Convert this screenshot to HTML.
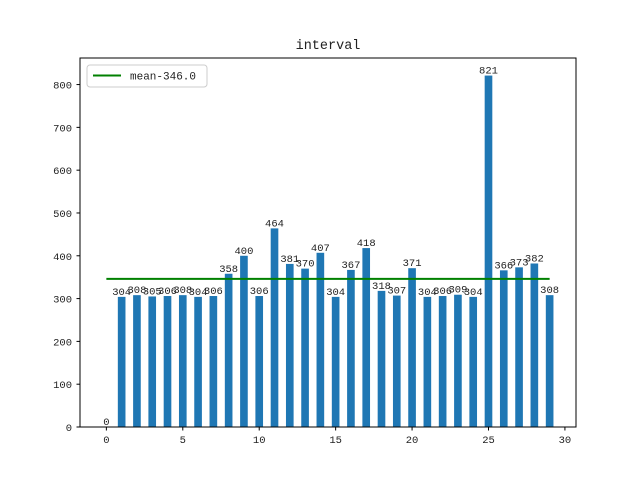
<!DOCTYPE html>
<html><head><meta charset="utf-8"><style>
body{margin:0;background:#fff}
svg text{font-family:"Liberation Mono","Noto Serif CJK SC",monospace;fill:#222}
</style></head><body>
<svg id="c" width="640" height="480" xmlns="http://www.w3.org/2000/svg">
<rect width="640" height="480" fill="#fff"/>
<text x="328" y="49" font-size="13.5" text-anchor="middle">interval</text>
<g id="bars"></g><g id="labels"></g><g id="axes"></g>
</svg>
<script>
const categories=[0,1,2,3,4,5,6,7,8,9,10,11,12,13,14,15,16,17,18,19,20,21,22,23,24,25,26,27,28,29];
const values=[0,304,308,305,306,308,304,306,358,400,306,464,381,370,407,304,367,418,318,307,371,304,306,309,304,821,366,373,382,308];
const meanValue=346.0;
const xTicks=[0,5,10,15,20,25,30];
const yTicks=[0,100,200,300,400,500,600,700,800];
const L=80,R=576,T=58,B=427;
const x0=-1.725,x1=30.725,y0=0,y1=862.05;
const X=v=>L+(v-x0)/(x1-x0)*(R-L);
const Y=v=>B-(v-y0)/(y1-y0)*(B-T);
const NS="http://www.w3.org/2000/svg";
function mk(t,a,p){const e=document.createElementNS(NS,t);for(const k in a)e.setAttribute(k,a[k]);p.appendChild(e);return e;}
const bars=document.getElementById('bars'),labels=document.getElementById('labels'),axes=document.getElementById('axes');
categories.forEach((c,i)=>{
  const v=values[i];
  const r=mk('rect',{x:X(c-0.25),y:Y(v),width:X(c+0.25)-X(c-0.25),height:Y(0)-Y(v),fill:'#1f77b4'},bars);
  
  
  const t=mk('text',{x:X(c),y:Y(v)-2,'font-size':'10.5','text-anchor':'middle'},labels);
  t.textContent=String(v);
  
  
});
const ml=mk('line',{x1:X(categories[0]),x2:X(categories[categories.length-1]),y1:Y(meanValue),y2:Y(meanValue),stroke:'#008000','stroke-width':2},bars);


const fr=mk('rect',{x:L,y:T,width:R-L,height:B-T,fill:'none',stroke:'#000','stroke-width':1},axes);


xTicks.forEach(v=>{
  mk('line',{x1:X(v),x2:X(v),y1:B,y2:B+3.5,stroke:'#000'},axes);
  const t=mk('text',{x:X(v),y:B+16,'font-size':'10.5','text-anchor':'middle'},axes);
  t.textContent=v;
  
  
});
yTicks.forEach(v=>{
  mk('line',{x1:L-3.5,x2:L,y1:Y(v),y2:Y(v),stroke:'#000'},axes);
  const t=mk('text',{x:L-8,y:Y(v)+4,'font-size':'10.5','text-anchor':'end'},axes);
  t.textContent=v;
  
  
});
const lg=mk('g',{},axes);


mk('rect',{x:87,y:65,width:120,height:22,rx:3,fill:'#fff',stroke:'#ccc'},lg);
mk('line',{x1:93,x2:121,y1:75.5,y2:75.5,stroke:'#008000','stroke-width':2},lg);
const lt=mk('text',{x:130,y:79.5,'font-size':'11'},lg);
lt.textContent='mean-'+meanValue.toFixed(1);


</script>
</body></html>
